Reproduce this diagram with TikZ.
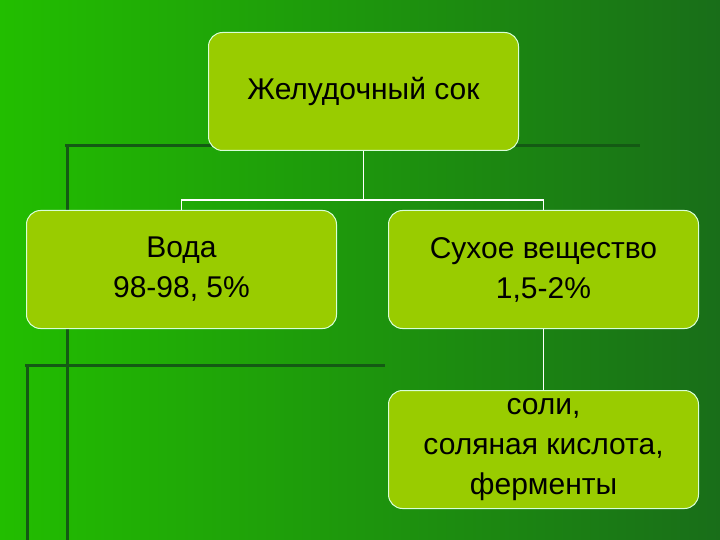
\documentclass[tikz,border=0pt]{standalone}
\usepackage{fontspec}
\setmainfont{Liberation Sans}
\definecolor{boxgreen}{RGB}{153,204,0}
\definecolor{bglight}{RGB}{34,190,0}
\definecolor{bgdark}{RGB}{25,110,25}
\definecolor{decog}{RGB}{20,90,20}
\begin{document}
\begin{tikzpicture}[x=1pt,y=-1pt,
  box/.style={draw=white!85!green,line width=1pt,fill=boxgreen,rounded corners=14pt,minimum width=310pt,minimum height=118pt,anchor=north west,align=center,font=\fontsize{30}{40}\selectfont,text=black},
  conn/.style={draw=white,line width=1.5pt},
  deco/.style={draw=decog,line width=3pt}]
\useasboundingbox (0,0) rectangle (720,540);
\shade[left color=bglight,right color=bgdark] (0,0) rectangle (720,540);
\draw[deco] (65,146) -- (640,146);
\draw[deco] (67,146) -- (67,540);
\draw[deco] (25,365) -- (385,365);
\draw[deco] (27,365) -- (27,540);
\node[box] (top) at (208,32) {Желудочный сок};
\node[box] (water) at (26,210) {Вода\\98-98, 5\%};
\node[box] (dry) at (388,210) {Сухое вещество\\1,5-2\%};
\node[box] (salt) at (388,390) {соли,\\соляная кислота,\\ферменты};
\draw[conn] (top.south) -- (top.south |- 0,200);
\draw[conn] (water.north) -- (water.north |- 0,200) -- (dry.north |- 0,200) -- (dry.north);
\draw[conn] (dry.south) -- (salt.north);
\end{tikzpicture}
\end{document}
